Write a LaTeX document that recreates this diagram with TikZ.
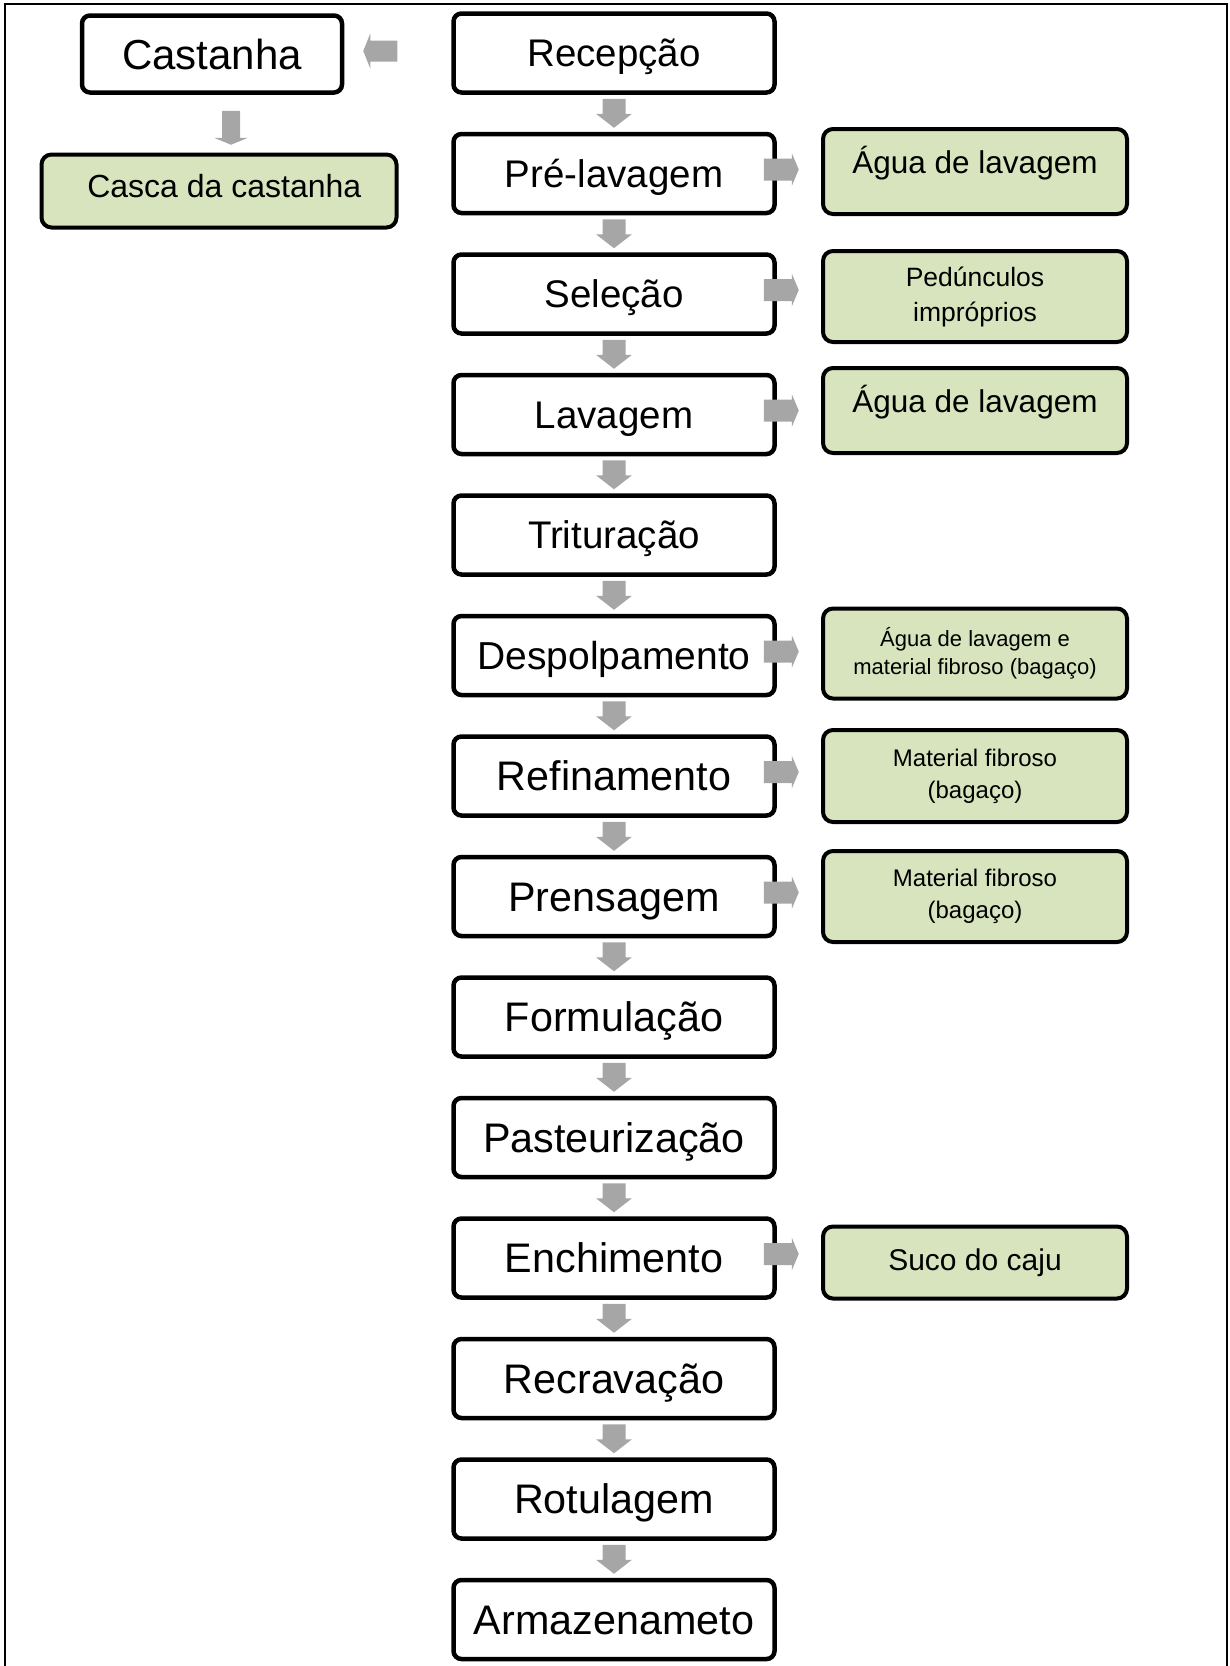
\documentclass[tikz,border=0pt]{standalone}
\usepackage{fontspec}
\setmainfont{Liberation Sans}
\usetikzlibrary{calc}
\definecolor{olivegreen}{HTML}{D7E4BD}
\definecolor{arrgray}{HTML}{A6A6A6}
\tikzset{
  proc/.style={draw=black, line width=4.5pt, rounded corners=8pt, fill=white,
    minimum width=321pt, minimum height=79pt, inner sep=0pt,
    text height=27.6pt, text depth=0pt,
    font=\fontsize{38.5pt}{44pt}\selectfont},
  procbig/.style={proc, text height=29.6pt, font=\fontsize{41.3pt}{46pt}\selectfont},
  outbox/.style={draw=black, line width=4pt, rounded corners=10pt, fill=olivegreen,
    minimum width=304pt, inner sep=0pt, align=center},
  pics/downarr/.style={code={\fill[arrgray] (-11.5,-14.5) -- (11.5,-14.5) -- (11.5,0.5) -- (18,0.5) -- (0,14.5) -- (-18,0.5) -- (-11.5,0.5) -- cycle;}},
  pics/rightarr/.style={code={\fill[arrgray] (-13,-11) -- (15,-11) -- (15,-16.5) -- (22,0) -- (15,16.5) -- (15,11) -- (-13,11) -- cycle;}},
  pics/leftarr/.style={code={\fill[arrgray] (0,0) -- (7,-17.5) -- (7,-10.5) -- (34,-10.5) -- (34,10.5) -- (7,10.5) -- (7,17.5) -- cycle;}},
  pics/smalldown/.style={code={\fill[arrgray] (-9,0) -- (9,0) -- (9,27) -- (17,27) -- (0,34) -- (-17,27) -- (-9,27) -- cycle;}},
}
\begin{document}
\begin{tikzpicture}[x=1pt,y=-1pt]
\useasboundingbox (0,0) rectangle (1230,1666);
% frame
\draw[line width=2.5pt] (5,1666) -- (5,4) -- (1227,4) -- (1227,1666);

% main column
\node[proc] (rec)  at (614,53)     {Recepção};
\node[proc] (pre)  at (614,173.5)  {Pré-lavagem};
\node[proc] (sel)  at (614,294)    {Seleção};
\node[proc] (lav)  at (614,414.5)  {Lavagem};
\node[proc] (tri)  at (614,535)    {Trituração};
\node[proc, text height=27.9pt, font=\fontsize{39pt}{44pt}\selectfont] (des)  at (614,655.5)  {Despolpamento};
\node[procbig] (ref)  at (614,776)    {Refinamento};
\node[procbig] (pren) at (614,896.5)  {Prensagem};
\node[procbig] (form) at (614,1017)   {Formulação};
\node[procbig] (past) at (614,1137.5) {Pasteurização};
\node[procbig] (ench) at (614,1258)   {Enchimento};
\node[procbig] (recr) at (614,1378.5) {Recravação};
\node[procbig] (rot)  at (614,1499)   {Rotulagem};
\node[procbig] (arm)  at (614,1619.5) {Armazenameto};

% left column
\node[proc, minimum width=260pt, minimum height=77pt, text height=30pt, font=\fontsize{42pt}{48pt}\selectfont] (cast) at (212,54) {Castanha};
\node[outbox, minimum width=355pt, minimum height=73pt, font=\fontsize{32pt}{36pt}\selectfont] (casca) at (219,191) {\raisebox{-6.8pt}[0pt][0pt]{\hspace*{10.6pt}Casca da castanha}};

% right column (outputs)
\node[outbox, minimum height=85pt, font=\fontsize{31.5pt}{36pt}\selectfont] (o1) at (975,171.5) {\raisebox{-1.5pt}[0pt][0pt]{Água de lavagem}};
\node[outbox, minimum height=91pt, font=\fontsize{26.5pt}{35pt}\selectfont] (o2) at (975,296.5) {Pedúnculos\\impróprios};
\node[outbox, minimum height=85pt, font=\fontsize{31.5pt}{36pt}\selectfont] (o3) at (975,410.5) {\raisebox{-1.5pt}[0pt][0pt]{Água de lavagem}};
\node[outbox, minimum height=90pt, font=\fontsize{22pt}{28pt}\selectfont] (o4) at (975,653.5) {Água de lavagem e\\material fibroso (bagaço)};
\node[outbox, minimum height=92pt, font=\fontsize{24pt}{32pt}\selectfont] (o5) at (975,776) {Material fibroso\\(bagaço)};
\node[outbox, minimum height=91pt, font=\fontsize{24pt}{32pt}\selectfont] (o6) at (975,896.5) {Material fibroso\\(bagaço)};
\node[outbox, minimum height=72pt, font=\fontsize{30pt}{36pt}\selectfont] (o7) at (975,1262.5) {Suco do caju};

% down arrows in main column
\foreach \a/\b in {rec/pre, pre/sel, sel/lav, lav/tri, tri/des, des/ref, ref/pren, pren/form, form/past, past/ench, ench/recr, recr/rot, rot/arm}
  \pic at ($(\a.south)!0.5!(\b.north)$) {downarr};

% right arrows to outputs
\foreach \a in {pre, sel, lav, des, ref, pren, ench}
  \pic at ($(\a.east)+(0,-4)$) {rightarr};

% left column arrows
\pic at ($(cast.east)+(19,-3)$) {leftarr};
\pic at ($(cast.south)+(19,16)$) {smalldown};
\end{tikzpicture}
\end{document}
